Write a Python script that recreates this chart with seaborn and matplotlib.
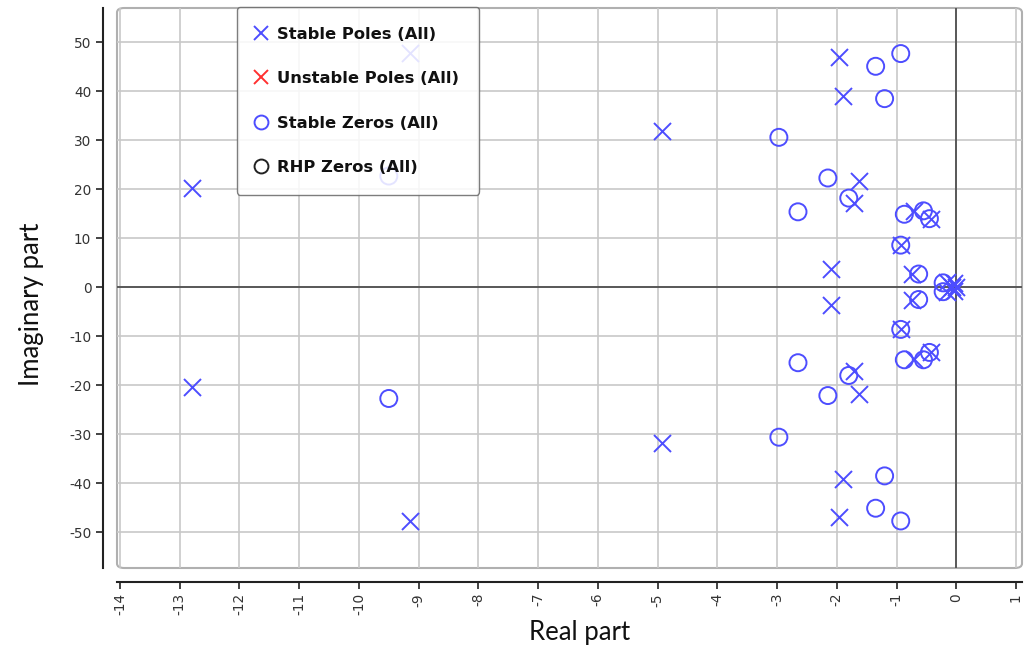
import numpy as np
import pandas as pd
import matplotlib
matplotlib.use("Agg")
import matplotlib.pyplot as plt
from matplotlib.lines import Line2D
from matplotlib.patches import FancyBboxPatch
import seaborn as sns

# ---- data ----
pole_re = [-12.8, -12.8, -9.15, -9.15, -4.92, -4.92, -1.96, -1.96, -1.90, -1.90,
           -1.63, -1.63, -1.71, -1.71, -2.10, -2.10, -0.93, -0.93, -0.74, -0.74,
           -0.71, -0.71, -0.43, -0.43, -0.15, -0.15, -0.08, -0.03, -0.03, 0.0]
pole_im = [20.3, -20.3, 47.9, -47.7, 31.8, -31.8, 46.9, -46.9, 39.1, -39.1,
           21.7, -21.7, 17.2, -17.0, 3.7, -3.7, 8.6, -8.6, 2.7, -2.5,
           15.6, -14.6, 13.9, -13.3, 1.0, -1.0, 0.0, 0.8, -0.8, 0.0]
zero_re = [-9.5, -9.5, -2.97, -2.97, -2.15, -2.15, -2.65, -2.65, -1.80, -1.80,
           -1.35, -1.35, -0.93, -0.93, -1.20, -1.20, -0.93, -0.93, -0.87, -0.87,
           -0.63, -0.63, -0.55, -0.55, -0.45, -0.45, -0.22, -0.22]
zero_im = [22.7, -22.7, 30.6, -30.6, 22.3, -22.1, 15.4, -15.4, 18.2, -18.0,
           45.1, -45.1, 47.7, -47.7, 38.5, -38.5, 8.6, -8.6, 14.9, -14.8,
           2.7, -2.5, 15.6, -14.8, 14.0, -13.3, 0.9, -0.9]
legend_labels = ["Stable Poles (All)", "Unstable Poles (All)",
                 "Stable Zeros (All)", "RHP Zeros (All)"]
x_ticks = list(range(-14, 2))
y_ticks = list(range(-50, 51, 10))

poles = pd.DataFrame({"re": pole_re, "im": pole_im})
zeros = pd.DataFrame({"re": zero_re, "im": zero_im})

BLUE = "#4d4dff"

sns.set_theme(style="white")
plt.rcParams["axes.unicode_minus"] = False
plt.rcParams["font.family"] = ["DejaVu Sans"]

fig = plt.figure(figsize=(10.25, 6.53), dpi=100)
ax = fig.add_axes([117 / 1025, 1 - 568 / 653, (1022 - 117) / 1025, (568 - 8) / 653])

ax.set_xlim(-14.05, 1.1)
ax.set_ylim(-57.3, 57.0)

# grid
ax.set_xticks(x_ticks)
ax.set_yticks(y_ticks)
ax.grid(True, color="#c8c8c8", linewidth=1.2)
ax.set_axisbelow(True)
ax.axhline(0, color="#444444", linewidth=1.2, zorder=1)
ax.axvline(0, color="#444444", linewidth=1.2, zorder=1)

sns.scatterplot(data=zeros, x="re", y="im", marker="o", s=150,
                facecolors="none", edgecolors=BLUE, linewidth=1.4, ax=ax, zorder=3)
sns.scatterplot(data=poles, x="re", y="im", marker="x", s=150,
                color=BLUE, linewidth=1.4, ax=ax, zorder=4)

# frame
for s in ["top", "right"]:
    ax.spines[s].set_visible(False)
ax.spines["left"].set_position(("outward", 10))
ax.spines["bottom"].set_position(("outward", 10))
ax.spines["left"].set_color("#222222")
ax.spines["bottom"].set_color("#222222")
ax.spines["left"].set_linewidth(1.5)
ax.spines["bottom"].set_linewidth(1.5)
frame = FancyBboxPatch((0, 0), 1, 1, boxstyle="round,pad=0,rounding_size=0.008",
                       transform=ax.transAxes, fill=False, edgecolor="#b0b0b0",
                       linewidth=1.5, clip_on=False, zorder=0.5)
ax.add_patch(frame)

ax.tick_params(axis="both", which="major", direction="out", length=5, width=1.2,
               color="#222222", labelsize=9.8, labelcolor="#333333",
               bottom=True, left=True)
ax.tick_params(axis="x", labelrotation=90, pad=3)
ax.set_xticklabels([str(t) for t in x_ticks])
ax.set_yticklabels([str(t) for t in y_ticks])

ax.set_xlabel("Real part", fontsize=18.5, family="Lato", color="#111111")
ax.set_ylabel("Imaginary part", fontsize=18.5, family="Lato", color="#111111")
ax.xaxis.set_label_coords(0.511, -0.093)
ax.yaxis.set_label_coords(-0.081, 0.47)

handles = [
    Line2D([], [], linestyle="none", marker="x", color=BLUE, markersize=10, markeredgewidth=1.4),
    Line2D([], [], linestyle="none", marker="x", color="#ff3030", markersize=10, markeredgewidth=1.4),
    Line2D([], [], linestyle="none", marker="o", markerfacecolor="none", markeredgecolor=BLUE,
           markersize=10, markeredgewidth=1.4),
    Line2D([], [], linestyle="none", marker="o", markerfacecolor="none", markeredgecolor="#222222",
           markersize=10, markeredgewidth=1.4),
]
leg = ax.legend(handles, legend_labels, loc="upper left",
                bbox_to_anchor=((237 - 117) / 905, 1.002),
                prop={"weight": "bold", "size": 11.8}, frameon=True, fancybox=True,
                labelspacing=1.8, handletextpad=0.7, handlelength=0.55,
                borderpad=1.2, borderaxespad=0, framealpha=0.85)
leg.get_frame().set_edgecolor("#666666")
leg.get_frame().set_linewidth(1.0)
for t in leg.get_texts():
    t.set_color("#111111")

fig.savefig("out.png", dpi=100)
